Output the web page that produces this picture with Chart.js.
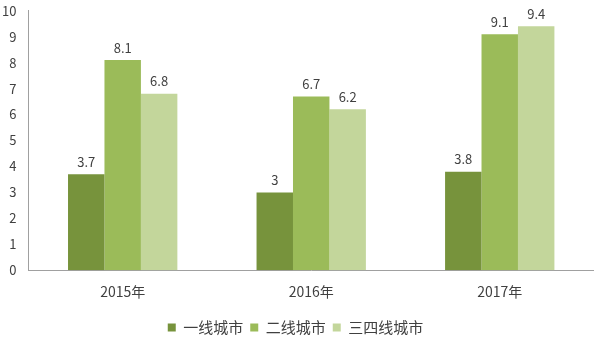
<!DOCTYPE html>
<html><head><meta charset="utf-8">
<script src="https://cdn.jsdelivr.net/npm/chart.js@4/dist/chart.umd.min.js"></script>
<style>html,body{margin:0;padding:0;background:#fff;overflow:hidden}#wrap{width:594px;height:338px;overflow:hidden}#c{display:block;margin-top:-9px}</style>
</head><body><div id="wrap"><canvas id="c" width="594" height="347"></canvas></div>
<script>
const categories = ["2015年", "2016年", "2017年"];
const tier1 = [3.7, 3, 3.8];
const tier2 = [8.1, 6.7, 9.1];
const tier34 = [6.8, 6.2, 9.4];
const seriesNames = ["一线城市", "二线城市", "三四线城市"];
const yTicks = [0,1,2,3,4,5,6,7,8,9,10];

const FONT = "'Noto Sans CJK SC','DejaVu Sans',sans-serif";
const labelPlugin = {
  id: 'valueLabels',
  afterDatasetsDraw(chart) {
    const ctx = chart.ctx;
    ctx.save();
    ctx.font = "13px " + FONT;
    ctx.fillStyle = '#404040';
    ctx.textAlign = 'center';
    ctx.textBaseline = 'bottom';
    chart.data.datasets.forEach((ds, i) => {
      chart.getDatasetMeta(i).data.forEach((bar, j) => {
        ctx.fillText(String(ds.data[j]), bar.x, bar.y - 6);
      });
    });
    ctx.restore();
  }
};

new Chart(document.getElementById('c'), {
  type: 'bar',
  data: {
    labels: categories,
    datasets: [
      {label: seriesNames[0], data: tier1, backgroundColor: '#77933C'},
      {label: seriesNames[1], data: tier2, backgroundColor: '#9BBB59'},
      {label: seriesNames[2], data: tier34, backgroundColor: '#C3D69B'}
    ]
  },
  options: {
    responsive: false,
    animation: false,
    devicePixelRatio: 1,
    datasets: {bar: {categoryPercentage: 0.58, barPercentage: 1, borderWidth: 0, inflateAmount: 0}},
    layout: {padding: {top: 0, right: -7, left: -10, bottom: -7}},
    plugins: {
      legend: {
        position: 'bottom',
        labels: {boxWidth: 8, boxHeight: 8, color: '#404040', font: {size: 15, family: FONT}, padding: 7}
      },
      tooltip: {enabled: false}
    },
    scales: {
      x: {
        grid: {display: false, drawTicks: false},
        border: {color: '#a0a0a0', width: 1},
        ticks: {color: '#404040', font: {size: 14, family: FONT}, padding: 13}
      },
      y: {
        min: 0, max: 10,
        afterBuildTicks(axis) { axis.ticks = yTicks.map(v => ({value: v})); },
        grid: {display: false, drawTicks: false},
        border: {color: '#a0a0a0', width: 1},
        ticks: {color: '#404040', font: {size: 13, family: FONT}, padding: 12}
      }
    }
  },
  plugins: [labelPlugin]
});
</script></body></html>
